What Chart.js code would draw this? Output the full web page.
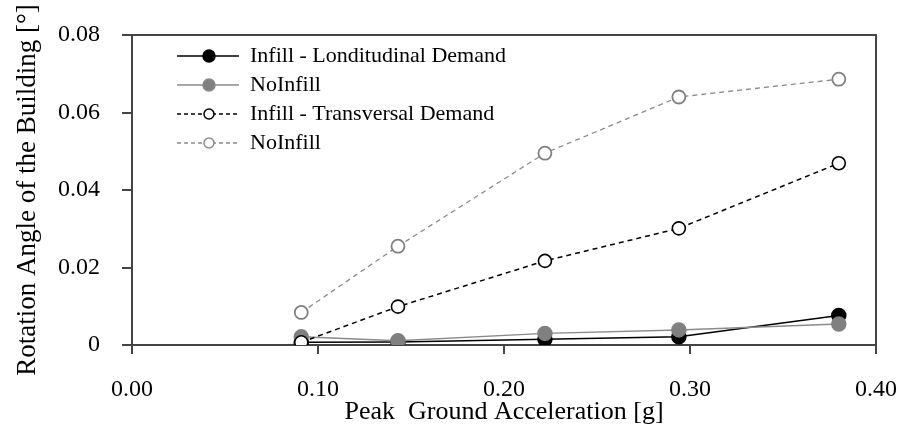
<!DOCTYPE html>
<html>
<head>
<meta charset="utf-8">
<script src="https://cdn.jsdelivr.net/npm/chart.js@4"></script>
<style>
  html, body { margin: 0; padding: 0; background: #fff; }
</style>
</head>
<body>
<canvas id="chart" width="900" height="428"></canvas>
<script>

// peak ground acceleration [g]
var pga = [0.091, 0.143, 0.222, 0.294, 0.380];

// rotation angle [deg] per case
var infillLong    = [0.0007, 0.0008, 0.0015, 0.0021, 0.0076];
var noInfillLong  = [0.0021, 0.0011, 0.0030, 0.0039, 0.0054];
var infillTrans   = [0.0007, 0.0099, 0.0217, 0.0301, 0.0469];
var noInfillTrans = [0.0084, 0.0255, 0.0495, 0.0640, 0.0686];

var seriesLabels = ["Infill - Londitudinal Demand", "NoInfill", "Infill - Transversal Demand", "NoInfill"];

var xTicks = [0, 0.1, 0.2, 0.3, 0.4];
var yTicks = [0, 0.02, 0.04, 0.06, 0.08];

var SERIF = "'Liberation Serif', 'DejaVu Serif', serif";
var AXIS = "#444";

function points(values) {
    return pga.map(function (x, i) { return { x: x, y: values[i] }; });
}

// small line + marker glyph used as legend icon
function legendIcon(color, dash, fill, radius) {
    var c = document.createElement("canvas");
    c.width = 100;
    c.height = 18;
    var g = c.getContext("2d");
    g.strokeStyle = color;
    g.lineWidth = 1.5;
    g.setLineDash(dash);
    g.beginPath();
    g.moveTo(38, 9);
    g.lineTo(100, 9);
    g.stroke();
    g.setLineDash([]);
    g.beginPath();
    g.arc(70, 9, radius, 0, Math.PI * 2);
    g.fillStyle = fill;
    g.fill();
    g.stroke();
    return c;
}

var datasets = [
    {
        label: seriesLabels[0],
        data: points(infillLong),
        borderColor: "#000",
        borderWidth: 1.5,
        pointBackgroundColor: "#000",
        pointBorderColor: "#000",
        pointRadius: 7,
        order: 3,
        icon: legendIcon("#000", [], "#000", 6)
    },
    {
        label: seriesLabels[1],
        data: points(noInfillLong),
        borderColor: "#8a8a8a",
        borderWidth: 1.5,
        pointBackgroundColor: "#808080",
        pointBorderColor: "#808080",
        pointRadius: 7,
        order: 2,
        icon: legendIcon("#8a8a8a", [], "#808080", 6)
    },
    {
        label: seriesLabels[2],
        data: points(infillTrans),
        borderColor: "#000",
        borderWidth: 1.5,
        borderDash: [5, 4],
        pointBackgroundColor: "#fff",
        pointBorderColor: "#000",
        pointBorderWidth: 1.6,
        pointRadius: 6.5,
        order: 1,
        icon: legendIcon("#000", [4, 3], "#fff", 5)
    },
    {
        label: seriesLabels[3],
        data: points(noInfillTrans),
        borderColor: "#8a8a8a",
        borderWidth: 1.3,
        borderDash: [5, 4],
        pointBackgroundColor: "#fff",
        pointBorderColor: "#808080",
        pointBorderWidth: 1.8,
        pointRadius: 6.5,
        order: 0,
        icon: legendIcon("#8a8a8a", [4, 3], "#fff", 5)
    }
];

// top and right edge of the plot box; legend pinned inside the plot
var framePlugin = {
    id: "frame",
    afterLayout: function (chart) {
        var a = chart.chartArea;
        if (chart.legend) {
            chart.legend.top = a.top + 3;
            chart.legend.bottom = a.bottom;
        }
    },
    afterDraw: function (chart) {
        var a = chart.chartArea;
        var ctx = chart.ctx;
        ctx.save();
        ctx.strokeStyle = AXIS;
        ctx.lineWidth = 2;
        ctx.beginPath();
        ctx.moveTo(a.left, a.top);
        ctx.lineTo(a.right, a.top);
        ctx.lineTo(a.right, a.bottom);
        ctx.stroke();
        ctx.restore();
    }
};

var ctx = document.getElementById("chart").getContext("2d");
var myChart = new Chart(ctx, {
    type: "line",
    data: { datasets: datasets },
    plugins: [framePlugin],
    options: {
        responsive: false,
        animation: false,
        devicePixelRatio: 1,
        layout: { padding: { top: 35, right: 24, left: 0, bottom: 0 } },
        plugins: {
            tooltip: { enabled: false },
            legend: {
                position: "chartArea",
                align: "start",
                labels: {
                    color: "#000",
                    font: { family: SERIF, size: 22 },
                    padding: 7,
                    usePointStyle: true,
                    pointStyleWidth: 100,
                    boxHeight: 18,
                    sort: function (a, b) { return a.datasetIndex - b.datasetIndex; },
                    generateLabels: function (chart) {
                        return Chart.defaults.plugins.legend.labels.generateLabels(chart).map(function (item) {
                            item.pointStyle = chart.data.datasets[item.datasetIndex].icon;
                            return item;
                        });
                    }
                }
            }
        },
        scales: {
            x: {
                type: "linear",
                min: xTicks[0],
                max: xTicks[xTicks.length - 1],
                afterBuildTicks: function (scale) {
                    scale.ticks = xTicks.map(function (v) { return { value: v }; });
                },
                afterFit: function (scale) {
                    scale.height = 83;
                    scale.paddingLeft = 0;
                    scale.paddingRight = 0;
                },
                ticks: {
                    color: "#000",
                    padding: 21,
                    maxRotation: 0,
                    font: { family: SERIF, size: 24 },
                    callback: function (v) { return v.toFixed(2); }
                },
                grid: { drawOnChartArea: false, tickLength: 9, color: AXIS, lineWidth: 2 },
                border: { color: AXIS, width: 2 },
                title: {
                    display: true,
                    text: "Peak  Ground Acceleration [g]",
                    color: "#000",
                    font: { family: SERIF, size: 26 },
                    padding: { top: 0, bottom: 0 }
                }
            },
            y: {
                min: yTicks[0],
                max: yTicks[yTicks.length - 1],
                afterBuildTicks: function (scale) {
                    scale.ticks = yTicks.map(function (v) { return { value: v }; });
                },
                afterFit: function (scale) {
                    scale.width = 132;
                    scale.paddingTop = 0;
                    scale.paddingBottom = 0;
                },
                ticks: {
                    color: "#000",
                    padding: 22,
                    font: { family: SERIF, size: 24 },
                    callback: function (v) { return v === 0 ? "0" : v.toFixed(2); }
                },
                grid: { drawOnChartArea: false, tickLength: 10, color: AXIS, lineWidth: 2 },
                border: { color: AXIS, width: 2 },
                title: {
                    display: true,
                    text: "Rotation Angle of the Building [°]",
                    color: "#000",
                    font: { family: SERIF, size: 27 },
                    padding: { top: 12, bottom: 0 }
                }
            }
        }
    }
});

</script>
</body>
</html>
